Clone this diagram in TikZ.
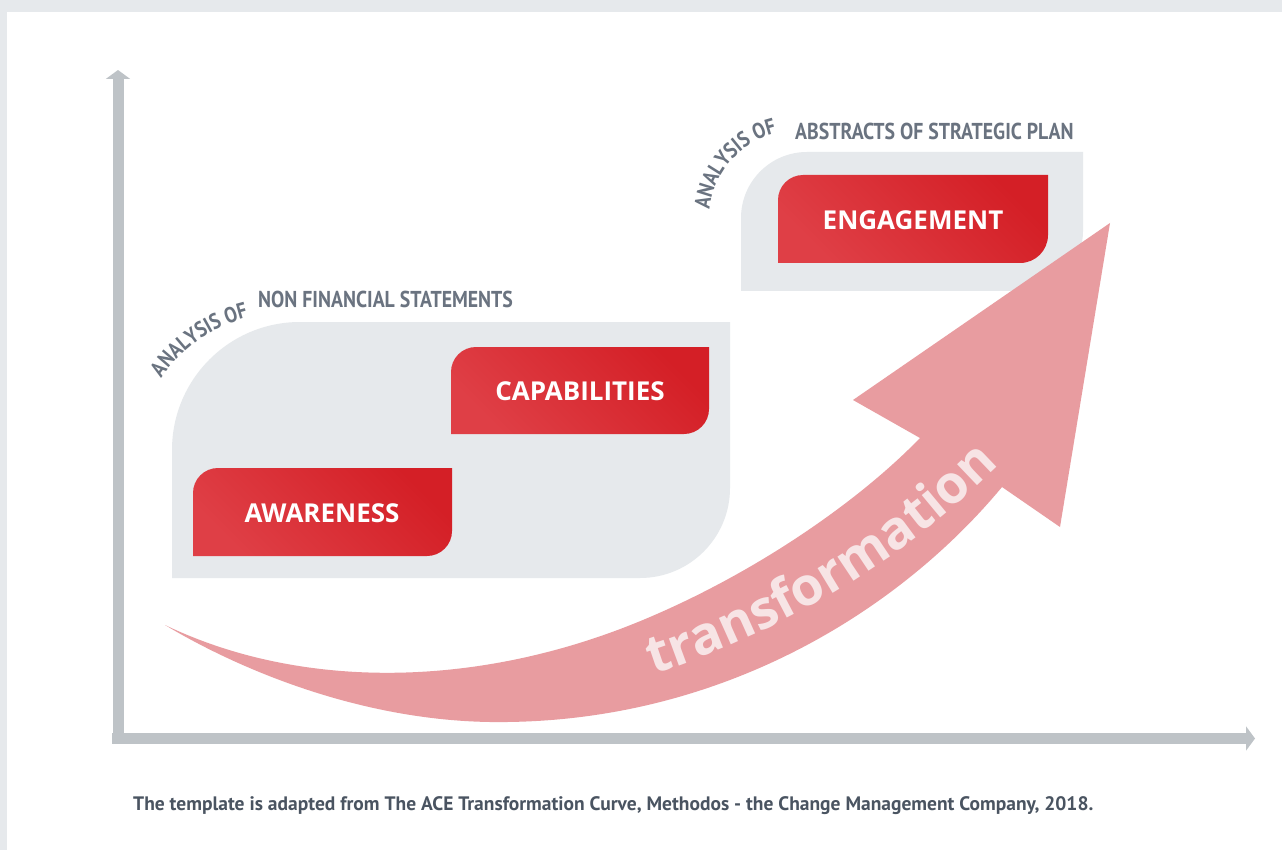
\documentclass[tikz,border=0pt]{standalone}
\usepackage{fontspec}
\newfontfamily\boxfont{Open Sans}
\newfontfamily\labelfont[FakeStretch=0.86]{PT Sans}
\newfontfamily\notefont{PT Sans}
\usetikzlibrary{arrows.meta,decorations.text,calc}
\definecolor{framegray}{HTML}{E6E9EC}
\definecolor{panelgray}{HTML}{E6E9EC}
\definecolor{axisgray}{HTML}{BEC3C7}
\definecolor{arrowpink}{HTML}{E89CA0}
\definecolor{redmain}{HTML}{CC0F17}
\definecolor{redlite}{HTML}{DF3F46}
\definecolor{redtop}{HTML}{D41F26}
\definecolor{labelgray}{HTML}{6A7380}
\definecolor{notegray}{HTML}{4A5461}
\definecolor{transwhite}{HTML}{F7E4E5}
\newcommand{\arclabel}{\labelfont\bfseries\fontsize{22}{22}\selectfont\color{labelgray}}
\newcommand{\transfont}{\boxfont\bfseries\fontsize{53}{53}\selectfont\color{transwhite}}
\begin{document}
\begin{tikzpicture}[x=1pt,y=-1pt]
\tikzstyle{every node}+=[inner sep=0pt]
\tikzstyle{stagetext}=[text=white,font=\boxfont\bfseries\fontsize{26}{26}\selectfont]
\tikzstyle{stagebox}=[top color=redlite,middle color=redmain,bottom color=redtop,shading angle=135]
\tikzstyle{panel}=[fill=panelgray]
\tikzstyle{axisbar}=[draw=axisgray,line width=11pt,-{Triangle[length=9pt,width=24pt]}]
\tikzstyle{headline}=[text=labelgray,font=\labelfont\bfseries\fontsize{23}{23}\selectfont,anchor=base west]
\useasboundingbox (0,0) rectangle (1282,850);
\fill[framegray] (0,0) rectangle (1282,850);
\fill[white] (7,12) rectangle (1282,850);
% axes
\coordinate (origin) at (118,738.5);
\coordinate (ytop) at (118,70);
\coordinate (xend) at (1255,738.5);
\draw[axisbar] (118,744) -- (ytop);
\draw[axisbar] (112,738.5) -- (xend);
% grey panels
\fill[panel] (172,578) -- (172,450) arc[start angle=180,end angle=90,radius=128pt] -- (730,322) -- (730,488) arc[start angle=0,end angle=-90,radius=90pt] -- cycle;
\fill[panel] (741,291) -- (741,218) arc[start angle=180,end angle=90,radius=66pt] -- (1083,152) -- (1083,231) arc[start angle=0,end angle=-90,radius=60pt] -- cycle;
% stages
\shade[stagebox] (193,556) -- (193,493) arc[start angle=180,end angle=90,radius=25pt] -- (452,468) -- (452,531) arc[start angle=0,end angle=-90,radius=25pt] -- cycle;
\node[stagetext] (awareness) at (322,513) {AWARENESS};
\shade[stagebox] (451,434) -- (451,372) arc[start angle=180,end angle=90,radius=25pt] -- (709,347) -- (709,409) arc[start angle=0,end angle=-90,radius=25pt] -- cycle;
\node[stagetext] (capabilities) at (580,391) {CAPABILITIES};
\shade[stagebox] (778,263) -- (778,200) arc[start angle=180,end angle=90,radius=25pt] -- (1048,175) -- (1048,235) arc[start angle=0,end angle=-90,radius=28pt] -- cycle;
\node[stagetext] (engagement) at (913,220) {ENGAGEMENT};
% headings
\node[headline] (nonfinancial) at (258,308) {NON FINANCIAL STATEMENTS};
\node[headline] (abstracts) at (795,140) {ABSTRACTS OF STRATEGIC PLAN};
\path[decorate,decoration={text along path,text={|\arclabel|ANALYSIS OF}}] ($(284,461)+(146:148pt)$) arc[start angle=146,end angle=90,radius=148pt];
\path[decorate,decoration={text along path,text={|\arclabel|ANALYSIS OF}}] ($(797,219)+(174:88pt)$) arc[start angle=174,end angle=90,radius=88pt];
% transformation arrow
\fill[arrowpink] (165,625) .. controls (300,690) and (480,690) .. (650,617) .. controls (760,570) and (860,500) .. (920,438) -- (853,400) -- (1110,223) -- (1060,527) -- (1002,487) .. controls (900,610) and (720,725) .. (490,722) .. controls (360,720) and (240,670) .. (165,625) -- cycle;
\path[decorate,decoration={text along path,text align=center,text={|\transfont|transformation}}] (655,674) .. controls (780,633) and (900,563) .. (998,466);
% source
\node[text=notegray,font=\notefont\bfseries\fontsize{19.5}{19.5}\selectfont,anchor=base west] (source) at (133,810) {The template is adapted from The ACE Transformation Curve, Methodos - the Change Management Company, 2018.};
\end{tikzpicture}
\end{document}
